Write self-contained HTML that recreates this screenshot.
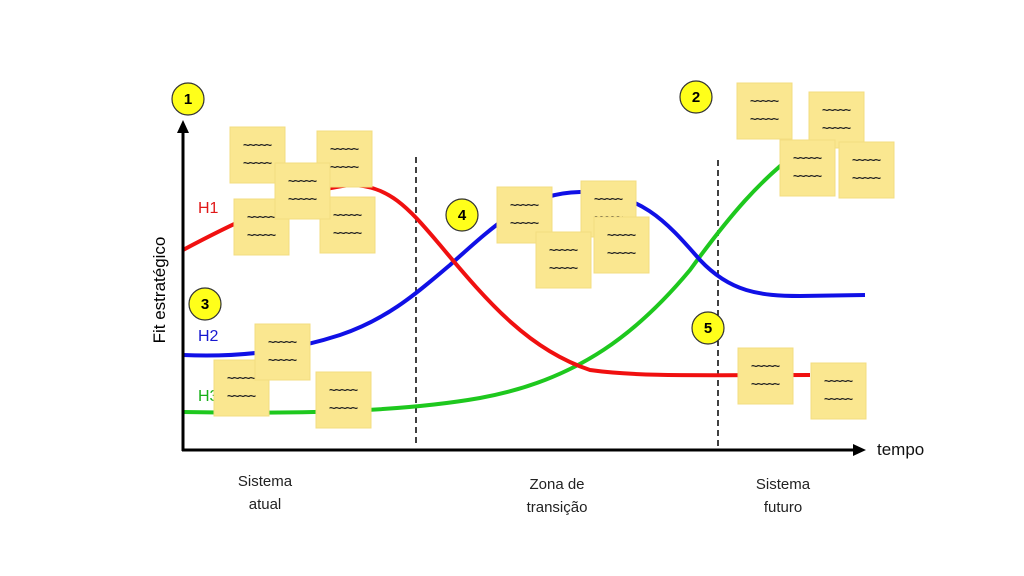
<!DOCTYPE html>
<html><head><meta charset="utf-8"><style>
body{margin:0;background:#fff;width:1024px;height:576px;overflow:hidden}
svg{display:block}
text{font-family:"Liberation Sans",sans-serif}
.n{fill:#fae790;stroke:#f3dc80;stroke-width:1}
.t{font-size:12px;fill:#222;letter-spacing:-1.5px;font-weight:bold}
</style></head><body>
<svg width="1024" height="576" viewBox="0 0 1024 576">
<defs>
<g id="note"><rect class="n" x="0" y="0" width="55" height="56"/><text class="t" x="13" y="22">~~~~~</text><text class="t" x="13" y="40">~~~~~</text></g>
</defs>
<line x1="416" y1="157" x2="416" y2="447" stroke="#000" stroke-width="1.5" stroke-dasharray="6,4"/>
<line x1="718" y1="160" x2="718" y2="447" stroke="#000" stroke-width="1.5" stroke-dasharray="6,4"/>
<path d="M183,412 C300,414 400,412 480,398 C580,380 640,330 690,270 C730,215 760,180 800,150" fill="none" stroke="#1ec81e" stroke-width="4"/>
<path d="M183,355 C250,358 300,348 340,335 C390,318 420,290 450,265 C500,220 530,193 580,192 C640,192 665,220 700,260 C730,292 760,296 800,296 L865,295" fill="none" stroke="#1010e6" stroke-width="4"/>
<path d="M183,250 C230,225 300,190 350,185 C390,185 410,210 440,245 C490,305 530,350 590,370 C640,377 700,375 810,375" fill="none" stroke="#f01010" stroke-width="4"/>
<line x1="183" y1="451" x2="183" y2="130" stroke="#000" stroke-width="3"/>
<polygon points="183,120 177,133 189,133" fill="#000"/>
<line x1="182" y1="450" x2="855" y2="450" stroke="#000" stroke-width="3"/>
<polygon points="866,450 853,444 853,456" fill="#000"/>
<text x="198" y="213" font-size="16" fill="#e01818">H1</text>
<text x="198" y="341" font-size="16" fill="#1818d0">H2</text>
<text x="198" y="401" font-size="16" fill="#18b018">H3</text>
<text transform="translate(165,290) rotate(-90)" text-anchor="middle" font-size="17" fill="#000">Fit estratégico</text>
<text x="877" y="455" font-size="17" fill="#111">tempo</text>
<text x="265" y="486" font-size="15" fill="#222" text-anchor="middle">Sistema</text>
<text x="265" y="509" font-size="15" fill="#222" text-anchor="middle">atual</text>
<text x="557" y="489" font-size="15" fill="#222" text-anchor="middle">Zona de</text>
<text x="557" y="512" font-size="15" fill="#222" text-anchor="middle">transição</text>
<text x="783" y="489" font-size="15" fill="#222" text-anchor="middle">Sistema</text>
<text x="783" y="512" font-size="15" fill="#222" text-anchor="middle">futuro</text>
<use href="#note" x="230" y="127"/>
<use href="#note" x="317" y="131"/>
<use href="#note" x="234" y="199"/>
<use href="#note" x="320" y="197"/>
<use href="#note" x="275" y="163"/>
<use href="#note" x="497" y="187"/>
<use href="#note" x="581" y="181"/>
<use href="#note" x="594" y="217"/>
<use href="#note" x="536" y="232"/>
<use href="#note" x="737" y="83"/>
<use href="#note" x="809" y="92"/>
<use href="#note" x="780" y="140"/>
<use href="#note" x="839" y="142"/>
<use href="#note" x="214" y="360"/>
<use href="#note" x="255" y="324"/>
<use href="#note" x="316" y="372"/>
<use href="#note" x="738" y="348"/>
<use href="#note" x="811" y="363"/>
<g font-size="15" font-weight="bold" text-anchor="middle">
<circle cx="188" cy="99" r="16" fill="#ffff1a" stroke="#333" stroke-width="1.2"/><text x="188" y="104">1</text>
<circle cx="696" cy="97" r="16" fill="#ffff1a" stroke="#333" stroke-width="1.2"/><text x="696" y="102">2</text>
<circle cx="205" cy="304" r="16" fill="#ffff1a" stroke="#333" stroke-width="1.2"/><text x="205" y="309">3</text>
<circle cx="462" cy="215" r="16" fill="#ffff1a" stroke="#333" stroke-width="1.2"/><text x="462" y="220">4</text>
<circle cx="708" cy="328" r="16" fill="#ffff1a" stroke="#333" stroke-width="1.2"/><text x="708" y="333">5</text>
</g>
</svg>
</body></html>
